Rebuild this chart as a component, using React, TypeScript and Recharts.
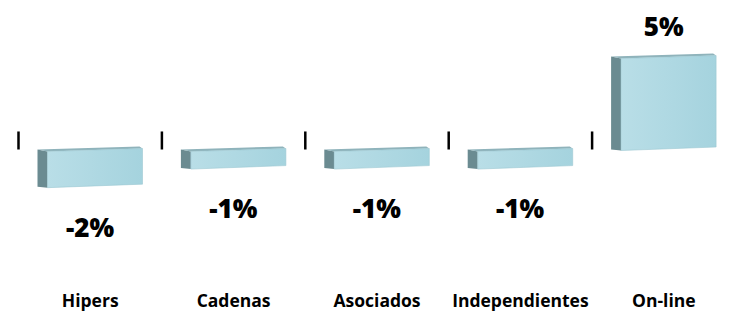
import { Bar, BarChart, LabelList, ReferenceLine, XAxis, YAxis } from "recharts";

const categories = ["Hipers", "Cadenas", "Asociados", "Independientes", "On-line"];
const growth = [-2, -1, -1, -1, 5];

const data = categories.map((name, i) => ({ name, value: growth[i] }));

const FONT = "'Open Sans', 'DejaVu Sans', sans-serif";
const SIDE = 10;

function Box3D(props: any) {
  const { x, y, width, height } = props;
  const top = Math.min(y, y + height);
  const bottom = Math.max(y, y + height);
  const fx = x + SIDE;
  const right = x + width;
  return (
    <g>
      <polygon
        points={`${x},${top} ${fx},${top + 2} ${fx},${bottom + 1} ${x},${bottom}`}
        fill="#6b8b91"
      />
      <polygon
        points={`${x},${top} ${right - 3},${top - 3} ${right},${top - 1} ${fx},${top + 2}`}
        fill="#8fb3bb"
      />
      <polygon
        points={`${fx},${top + 2} ${right},${top - 1} ${right},${bottom - 2.5} ${fx},${bottom + 1}`}
        fill="url(#frontGrad)"
        stroke="#9cc8d2"
        strokeWidth={0.6}
      />
    </g>
  );
}

function ValueLabel(props: any) {
  const { x, y, width, height, value } = props;
  const top = Math.min(y, y + height);
  const bottom = Math.max(y, y + height);
  const cy = value < 0 ? bottom + 40 : top - 31;
  return (
    <text
      x={x + width / 2}
      y={cy}
      textAnchor="middle"
      dominantBaseline="central"
      fontFamily={FONT}
      fontWeight={800}
      fontSize={26}
      fill="#000"
    >
      {`${value}%`}
    </text>
  );
}

function CategoryTick(props: any) {
  const { x, payload } = props;
  return (
    <text
      x={x}
      y={307}
      textAnchor="middle"
      fontFamily={FONT}
      fontWeight={700}
      fontSize={17.5}
      fill="#000"
    >
      {payload.value}
    </text>
  );
}

export default function App() {
  return (
    <div style={{ position: "absolute", left: 0, top: 0, width: 730, height: 311, background: "#fff" }}>
      <BarChart
        width={730}
        height={311}
        data={data}
        margin={{ top: 38, right: -5.5, left: 18.5, bottom: 0 }}
        barCategoryGap={0}
      >
        <defs>
          <linearGradient id="frontGrad" x1="0" y1="0" x2="1" y2="0">
            <stop offset="0%" stopColor="#b9dee7" />
            <stop offset="100%" stopColor="#a5d3de" />
          </linearGradient>
        </defs>
        <XAxis
          dataKey="name"
          axisLine={false}
          tickLine={false}
          height={50}
          tick={<CategoryTick />}
          interval={0}
        />
        <YAxis hide domain={[-6, 6]} />
        {categories.map((c) => (
          <ReferenceLine
            key={c}
            segment={[
              { x: c, y: 0 },
              { x: c, y: 0.97 },
            ]}
            position="start"
            stroke="#000"
            strokeWidth={2.5}
            ifOverflow="visible"
          />
        ))}
        <Bar dataKey="value" barSize={105} shape={<Box3D />} isAnimationActive={false}>
          <LabelList dataKey="value" content={<ValueLabel />} />
        </Bar>
      </BarChart>
    </div>
  );
}
